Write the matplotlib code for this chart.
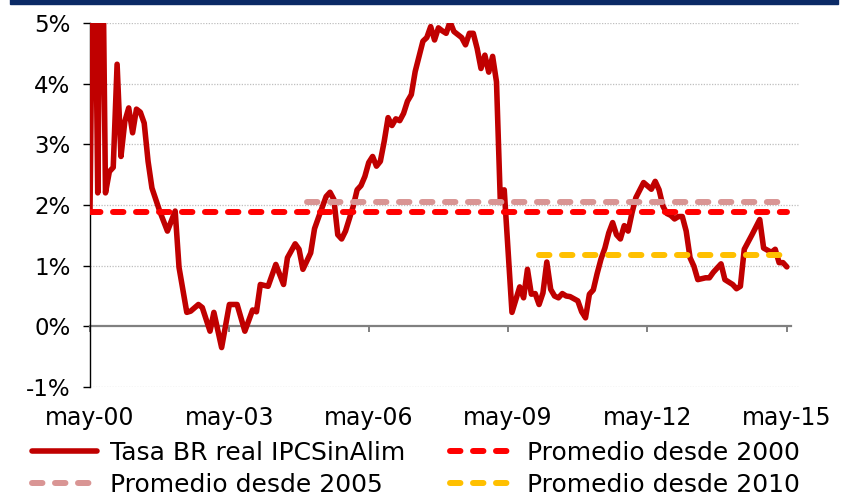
import matplotlib.pyplot as plt
from matplotlib.lines import Line2D
from matplotlib.patches import Rectangle

plt.rcParams['font.family'] = ['DejaVu Sans']

# meses contados desde may-00 y tasa BR real (%)
meses = [0, 1, 2, 3, 4, 5, 6, 7, 8, 9, 10, 11, 12, 13, 14, 15, 16, 18, 20, 22,
         23, 25, 26, 28, 29, 31, 32, 34, 36, 38, 40, 42, 43, 44, 46, 48, 50, 51,
         53, 54, 55, 57, 58, 59, 61, 62, 63, 64, 65, 66, 68, 69, 70, 71, 72, 73,
         74, 75, 76, 77, 78, 79, 80, 81, 82, 83, 84, 86, 87, 88, 89, 90, 91, 92,
         93, 94, 96, 97, 98, 99, 100, 101, 102, 103, 104, 105, 106, 107, 109,
         110, 111, 112, 113, 114, 115, 116, 117, 118, 119, 120, 121, 122, 123,
         124, 126, 127, 128, 129, 130, 131, 132, 133, 134, 135, 136, 137, 138,
         139, 140, 141, 143, 145, 146, 147, 148, 149, 150, 151, 152, 153, 154,
         155, 156, 157, 159, 160, 161, 163, 164, 166, 167, 168, 169, 171, 173,
         174, 176, 177, 178, 179, 180]
tasa = [1.90, 8.0, 2.20, 8.0, 2.20, 2.55, 2.62, 4.32, 2.80, 3.38, 3.60, 3.19,
        3.58, 3.53, 3.35, 2.72, 2.28, 1.90, 1.57, 1.90,
        0.97, 0.23, 0.25, 0.36, 0.31, -0.08, 0.23, -0.35, 0.36, 0.36, -0.08,
        0.27, 0.24, 0.69, 0.66, 1.02, 0.69, 1.13,
        1.36, 1.27, 0.94, 1.21, 1.61, 1.79, 2.14, 2.21, 2.09, 1.51, 1.44, 1.57,
        1.98, 2.25, 2.32, 2.47, 2.70, 2.80,
        2.64, 2.72, 3.05, 3.44, 3.31, 3.42, 3.39, 3.51, 3.71, 3.82, 4.20, 4.70,
        4.76, 4.94, 4.72, 4.92, 4.87, 4.83,
        5.02, 4.86, 4.76, 4.64, 4.83, 4.83, 4.58, 4.25, 4.47, 4.19, 4.45, 4.03,
        2.04, 2.25, 0.23,
        0.44, 0.65, 0.47, 0.94, 0.53, 0.54, 0.36, 0.55, 1.06, 0.61, 0.50, 0.47,
        0.54, 0.50,
        0.49, 0.42, 0.24, 0.14, 0.53, 0.60, 0.87, 1.11, 1.29, 1.54, 1.71, 1.51,
        1.44, 1.66,
        1.57, 1.87, 2.12, 2.37, 2.26, 2.39, 2.25, 1.98, 1.86, 1.83, 1.77, 1.81,
        1.81, 1.57,
        1.13, 0.99, 0.77, 0.80, 0.80, 0.89, 1.03, 0.77, 0.69, 0.62, 0.66, 1.27,
        1.51, 1.76,
        1.29, 1.22, 1.27, 1.05, 1.05, 0.98]

# promedios: (mes de inicio, valor)
prom_2000 = (0, 1.89)
prom_2005 = (56, 2.05)
prom_2010 = (116, 1.17)
mes_fin = 180

tick_meses = [0, 36, 72, 108, 144, 180]
tick_labels = ['may-00', 'may-03', 'may-06', 'may-09', 'may-12', 'may-15']
y_ticks = [-1, 0, 1, 2, 3, 4, 5]

fig = plt.figure(figsize=(8.48, 4.97), dpi=100)
ax = fig.add_axes([90 / 848, 110 / 497, 710 / 848, 364 / 497])

# barra azul arriba
fig.patches.append(Rectangle((10 / 848, 493 / 497), 828 / 848, 10 / 497,
                             transform=fig.transFigure, color='#0B2A66'))

lw_prom = 4.3
dash = (0, (1.75, 2.1))
ax.plot(meses, tasa, color='#C00000', lw=4.0, solid_joinstyle='round',
        solid_capstyle='round', zorder=3)
ax.plot([prom_2000[0], mes_fin], [prom_2000[1]] * 2, color='#FF0000',
        lw=lw_prom, ls=dash, dash_capstyle='round', zorder=4)
ax.plot([prom_2005[0], mes_fin], [prom_2005[1]] * 2, color='#D99594',
        lw=lw_prom, ls=dash, dash_capstyle='round', zorder=4)
ax.plot([prom_2010[0], mes_fin], [prom_2010[1]] * 2, color='#FFC000',
        lw=lw_prom, ls=dash, dash_capstyle='round', zorder=4)

ax.set_xlim(0, 183.4)
ax.set_ylim(-1, 5)

for y in y_ticks:
    if y != 0:
        ax.axhline(y, color='#BFBFBF', lw=0.9, ls=(0, (1, 1.2)), zorder=1)

ax.spines['top'].set_visible(False)
ax.spines['right'].set_visible(False)
ax.spines['left'].set_color('#000000')
ax.spines['left'].set_linewidth(1.0)
ax.spines['bottom'].set_position(('data', 0))
ax.spines['bottom'].set_bounds(0, 181)
ax.spines['bottom'].set_color('#808080')
ax.spines['bottom'].set_linewidth(1.6)
ax.spines['bottom'].set_zorder(2)

ax.set_yticks(y_ticks)
ax.set_yticklabels([f'{v}%' for v in y_ticks])
ax.set_xticks(tick_meses)
ax.set_xticklabels(tick_labels)
ax.tick_params(axis='y', direction='out', length=5, width=1, color='#000000',
               labelsize=16.5, pad=9)
ax.tick_params(axis='x', direction='out', length=4.5, width=1.4, color='#808080',
               labelsize=17, pad=53)

handles = [
    Line2D([], [], color='#C00000', lw=4.0, solid_capstyle='round'),
    Line2D([], [], color='#D99594', lw=lw_prom, ls=dash, dash_capstyle='round'),
    Line2D([], [], color='#FF0000', lw=lw_prom, ls=dash, dash_capstyle='round'),
    Line2D([], [], color='#FFC000', lw=lw_prom, ls=dash, dash_capstyle='round'),
]
labels = ['Tasa BR real IPCSinAlim', 'Promedio desde 2005',
          'Promedio desde 2000', 'Promedio desde 2010']
fig.legend(handles, labels, ncol=2, loc='upper left',
           bbox_to_anchor=(32 / 848, 56 / 497), frameon=False, fontsize=18,
           handlelength=2.6, handletextpad=0.5, columnspacing=1.8,
           labelspacing=0.3, borderpad=0, borderaxespad=0)

fig.savefig('out.png', dpi=100)
